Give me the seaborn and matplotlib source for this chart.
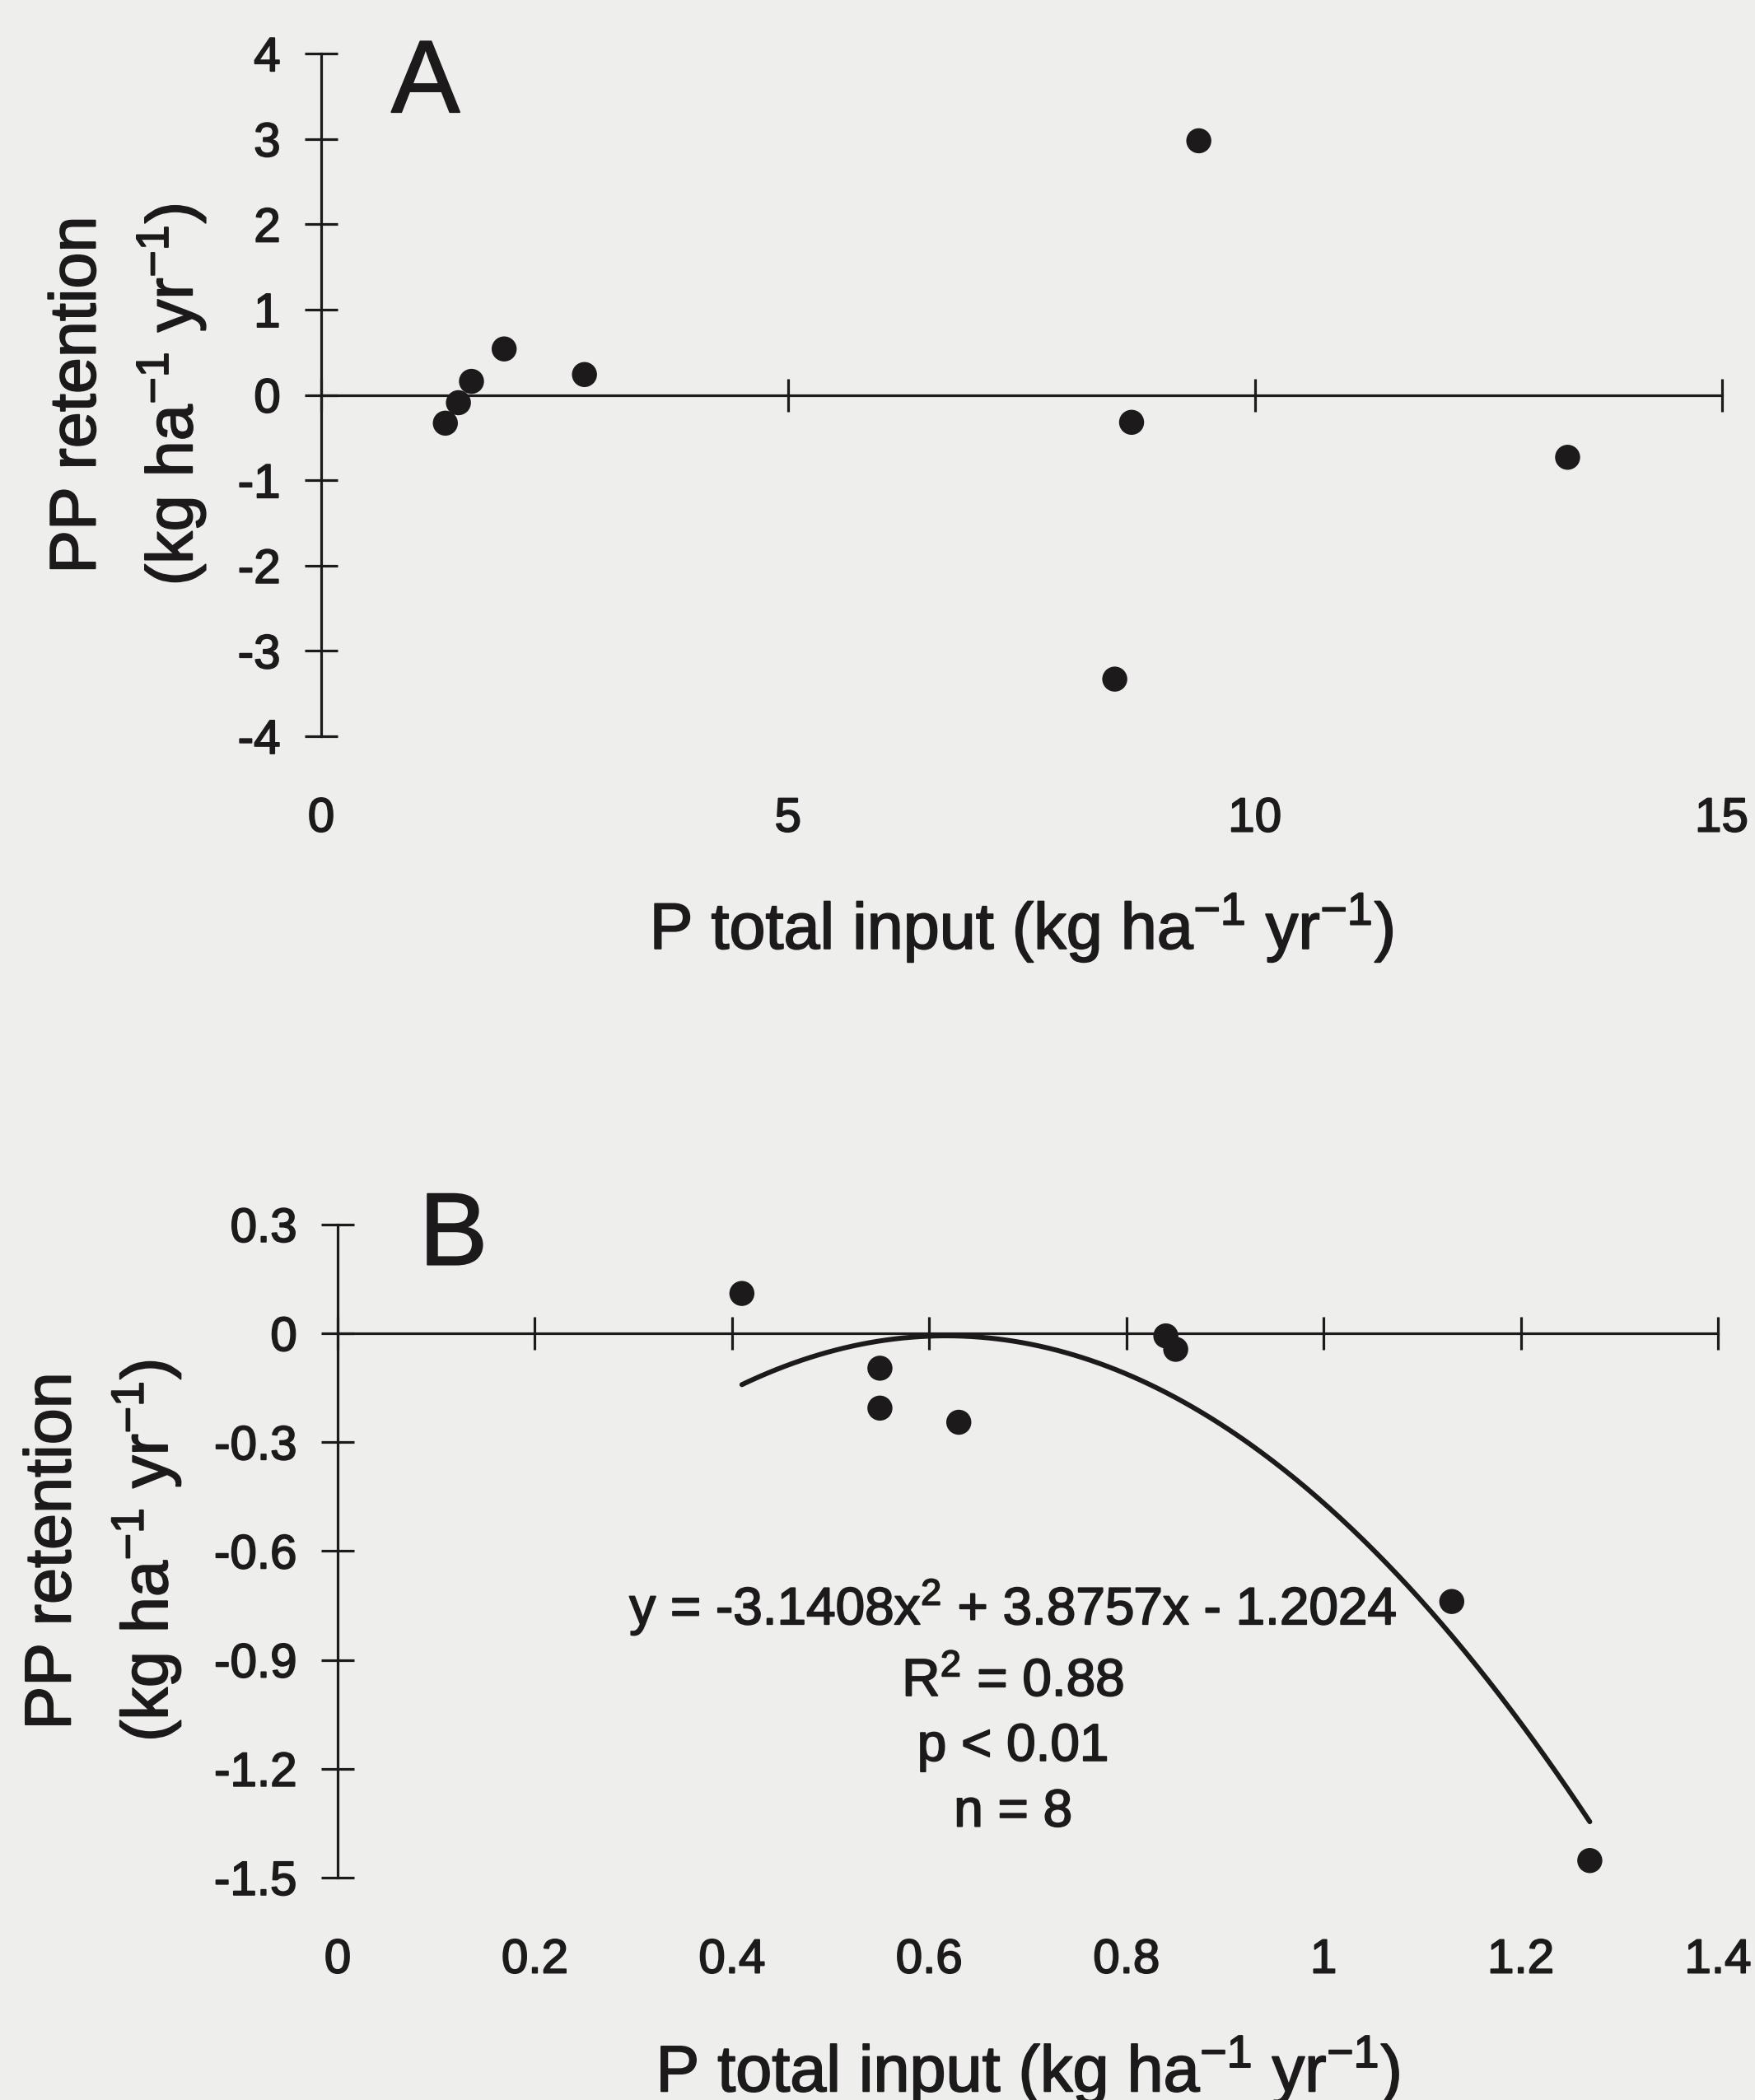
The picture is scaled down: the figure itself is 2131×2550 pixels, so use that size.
import numpy as np
import pandas as pd
import matplotlib
matplotlib.use("Agg")
import matplotlib.pyplot as plt
import matplotlib.patheffects as pe
import seaborn as sns

# ---------------- data ----------------
xa = [1.33, 1.47, 1.61, 1.96, 2.82, 9.40, 8.68, 8.50, 13.35]
ya = [-0.33, -0.09, 0.16, 0.54, 0.24, 2.98, -0.32, -3.33, -0.73]

xb = [0.41, 0.55, 0.55, 0.63, 0.84, 0.85, 1.13, 1.27]
yb = [0.11, -0.096, -0.206, -0.245, -0.007, -0.044, -0.739, -1.453]

fit_coef_b = [-3.1408, 3.8757, -1.2024]   # quadratic fit shown in panel B

xticks_a = [0, 5, 10, 15]
xticklabels_a = ["0", "5", "10", "15"]
yticks_a = [4, 3, 2, 1, 0, -1, -2, -3, -4]
yticklabels_a = ["4", "3", "2", "1", "0", "-1", "-2", "-3", "-4"]

xticks_b = [0, 0.2, 0.4, 0.6, 0.8, 1.0, 1.2, 1.4]
xticklabels_b = ["0", "0.2", "0.4", "0.6", "0.8", "1", "1.2", "1.4"]
yticks_b = [0.3, 0, -0.3, -0.6, -0.9, -1.2, -1.5]
yticklabels_b = ["0.3", "0", "-0.3", "-0.6", "-0.9", "-1.2", "-1.5"]

stats_lines_b = ["y = -3.1408x$^{2}$ + 3.8757x - 1.2024",
                 "R$^{2}$ = 0.88", "p < 0.01", "n = 8"]

xlabel_txt = "P total input (kg ha$^{-1}$ yr$^{-1}$)"
ylabel_txt = "PP retention\n(kg ha$^{-1}$ yr$^{-1}$)"

# ---------------- style ----------------
sns.set_theme(style="white")
BG = "#eeeeec"
INK = "#1c1a1a"
plt.rcParams["font.family"] = ["Liberation Sans", "DejaVu Sans"]
plt.rcParams["mathtext.fontset"] = "custom"
plt.rcParams["mathtext.rm"] = "Liberation Sans"
plt.rcParams["mathtext.it"] = "Liberation Sans"
plt.rcParams["mathtext.default"] = "regular"
plt.rcParams["axes.unicode_minus"] = False

THICK = [pe.withStroke(linewidth=1.3, foreground=INK)]

fig = plt.figure(figsize=(21.31, 25.5), dpi=100, facecolor=BG)
axA = fig.add_axes([0.183, 0.6494, 0.798, 0.325])
axB = fig.add_axes([0.1924, 0.1059, 0.7865, 0.311])

LW = 2.3
TICK_FS = 42
LAB_FS = 57


def style_axes(ax, xlim, ylim, xt, xtl, yt, ytl, xlab_y, ylab_x):
    ax.set_facecolor(BG)
    ax.set_xlim(*xlim)
    ax.set_ylim(*ylim)
    for s in ["top", "right"]:
        ax.spines[s].set_visible(False)
    ax.spines["bottom"].set_position(("data", 0))
    for s in ["bottom", "left"]:
        ax.spines[s].set_color(INK)
        ax.spines[s].set_linewidth(LW)
    ax.set_xticks(xt)
    ax.set_yticks(yt)
    ax.set_yticklabels(ytl)
    ax.tick_params(axis="x", direction="inout", length=29, width=LW,
                   color=INK, labelbottom=False, bottom=True)
    ax.tick_params(axis="y", direction="inout", length=29, width=LW,
                   color=INK, labelsize=TICK_FS, labelcolor=INK, pad=21, left=True)
    for t in ax.get_yticklabels():
        t.set_path_effects(THICK)
    sec = ax.secondary_xaxis(0)
    sec.set_xticks(xt)
    sec.set_xticklabels(xtl)
    sec.tick_params(length=0, labelsize=TICK_FS, labelcolor=INK, pad=53)
    sec.spines["bottom"].set_visible(False)
    for t in sec.get_xticklabels():
        t.set_path_effects(THICK)
    ax.set_xlabel(xlabel_txt, fontsize=LAB_FS, color=INK, va="baseline",
                  path_effects=THICK)
    ax.xaxis.set_label_coords(0.5, xlab_y)
    ax.set_ylabel(ylabel_txt, fontsize=LAB_FS, color=INK, va="center",
                  ha="center", multialignment="center", linespacing=1.45,
                  path_effects=THICK)
    ax.yaxis.set_label_coords(ylab_x, 0.5)


# ---------------- panel A ----------------
dfA = pd.DataFrame({"x": xa, "y": ya})
sns.scatterplot(data=dfA, x="x", y="y", ax=axA, s=480, color=INK,
                edgecolor="none", zorder=5, clip_on=False)
style_axes(axA, (0, 15), (-4, 4), xticks_a, xticklabels_a, yticks_a,
           yticklabels_a, -0.312, -0.138)
axA.text(0.050, 1.023, "A", transform=axA.transAxes, fontsize=90,
         color=INK, ha="left", va="top", path_effects=THICK)

# ---------------- panel B ----------------
dfB = pd.DataFrame({"x": xb, "y": yb})
xf = np.linspace(min(xb), max(xb), 300)
dfFit = pd.DataFrame({"x": xf, "y": np.polyval(fit_coef_b, xf)})
sns.lineplot(data=dfFit, x="x", y="y", ax=axB, color=INK, linewidth=4.3,
             zorder=4)
sns.scatterplot(data=dfB, x="x", y="y", ax=axB, s=480, color=INK,
                edgecolor="none", zorder=5, clip_on=False)
style_axes(axB, (0, 1.4), (-1.5, 0.3), xticks_b, xticklabels_b, yticks_b,
           yticklabels_b, -0.328, -0.170)
axB.text(0.059, 1.052, "B", transform=axB.transAxes, fontsize=90,
         color=INK, ha="left", va="top", path_effects=THICK)

stat_y = [-0.753, -0.96, -1.139, -1.32]
for txt, yy in zip(stats_lines_b, stat_y):
    axB.text(0.685, yy, txt, fontsize=46, color=INK, ha="center",
             va="center", path_effects=THICK)

fig.savefig("out.png", dpi=100, facecolor=BG)
